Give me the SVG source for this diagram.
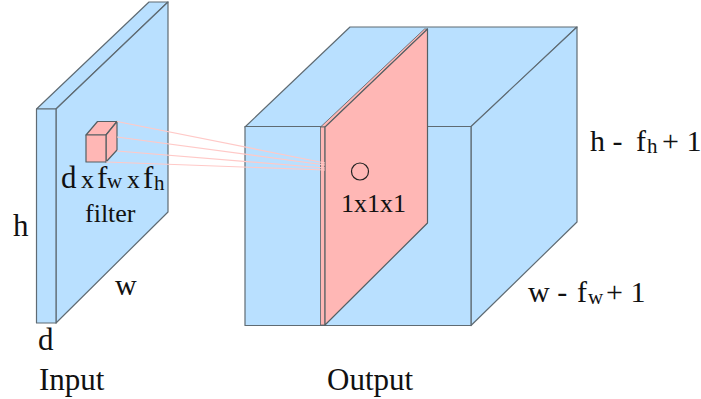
<svg xmlns="http://www.w3.org/2000/svg" width="701" height="399" viewBox="0 0 701 399">
<style>
.b{fill:#b9e0ff;stroke:#5f6b73;stroke-width:1.2;stroke-linejoin:round}
.p{fill:#ffb7b5;stroke:#555f63;stroke-width:1.2;stroke-linejoin:round}
.t{fill:#ffb7b5;stroke:#555f63;stroke-width:.8;stroke-linejoin:round}
.r{stroke:#ffc9c7;stroke-width:1.2;fill:none}
text{font-family:"Liberation Serif","Times New Roman",serif;fill:#111;font-size:30px}
.l{font-size:31px}
.s{font-size:21px}
.m{font-size:26px}
</style>
<rect width="701" height="399" fill="#fff"/>
<g id="input">
<polygon class="b" points="36.5,109 149,2 168,2 56,109"/>
<polygon class="b" points="56,109 168,2 168,212 56,323"/>
<rect class="b" x="36.5" y="109" width="19.5" height="214"/>
</g>
<g id="output">
<polygon class="b" points="245,127 350,27 577,27 471,127"/>
<polygon class="b" points="471,126.5 577,27 577,222 471,325.500"/>
<rect class="b" x="245" y="126.500" width="226" height="199"/>
</g>
<g id="filter-slice">
<polygon class="t" points="320.500,127 424.500,29 427.500,29 325,127"/>
<rect class="t" x="320.500" y="127" width="4.500" height="198"/>
<polygon class="p" points="325,127 427.500,29 427.500,223 325,325"/>
<circle cx="360" cy="171.500" r="8.500" fill="none" stroke="#222" stroke-width="1.200"/>
</g>
<g id="filter-cube">
<polygon class="p" points="86,135 97.500,121.500 117,121.500 106,135"/>
<polygon class="p" points="106,135 117,121.500 117,150 106,162"/>
<rect class="p" x="86" y="135" width="20" height="27"/>
</g>
<g id="connectors">
<line class="r" x1="117" y1="121.500" x2="325" y2="163"/>
<line class="r" x1="117" y1="137" x2="325" y2="165"/>
<line class="r" x1="117" y1="151" x2="325" y2="168"/>
<line class="r" x1="106" y1="162" x2="325" y2="170"/>
</g>
<g id="labels">
<text class="l" x="61" y="188">d</text><text class="m" x="81" y="188">x</text><text class="l" x="97" y="188">f</text><text class="s" x="107" y="188">w</text><text class="m" x="127" y="188">x</text><text class="l" x="143" y="188">f</text><text class="s" x="154" y="190">h</text>
<text class="m" x="85" y="222">filter</text>
<text class="l" x="13" y="236">h</text>
<text x="115" y="295">w</text>
<text class="l" x="38" y="350">d</text>
<text class="l" x="39" y="390">Input</text>
<text class="l" x="327" y="390">Output</text>
<text class="m" x="341" y="212">1x1x1</text>
<text x="590" y="151">h -</text><text x="636" y="151">f</text><text class="s" x="647" y="153">h</text><text x="662" y="151">+ 1</text>
<text x="528" y="302">w -</text><text x="577" y="302">f</text><text class="s" x="588" y="304">w</text><text x="606" y="302">+ 1</text>
</g>
</svg>
